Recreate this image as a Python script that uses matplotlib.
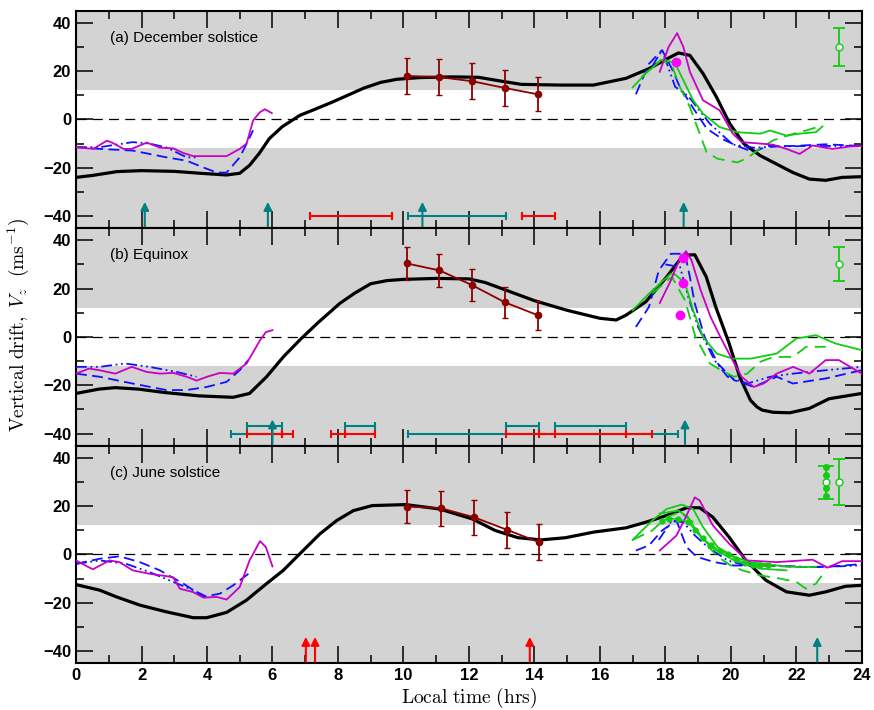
import matplotlib
matplotlib.use("Agg")
import matplotlib.pyplot as plt
from matplotlib.ticker import MultipleLocator

plt.rcParams['font.family'] = ['Liberation Sans', 'DejaVu Sans']
plt.rcParams['mathtext.fontset'] = 'cm'

titles = ["(a) December solstice", "(b) Equinox", "(c) June solstice"]

# ---------------- panel (a) December solstice ----------------
a_black_t = [0, 0.5, 1.25, 2, 3, 3.8, 4.6, 5.0, 5.3, 5.6, 5.9, 6.3, 6.84, 7.3, 7.8, 8.3, 8.8, 9.3, 9.8, 10.5, 11.5, 12.3, 13.0,
             13.6, 14.78, 15.8, 16.8, 17.5, 18.04, 18.4, 18.75, 19.15, 19.56, 19.97, 20.4, 20.9, 21.4, 21.9, 22.4, 22.9, 23.4, 24]
a_black_v = [-24, -23.2, -21.6, -21.2, -21.5, -22.3, -23, -22.3, -19, -14, -8, -3, 1.7, 4.2, 7, 10, 13, 15.3, 16.6, 17.3, 17.6, 17.4, 15.8,
             14.5, 14.2, 14.2, 17, 21, 25, 27.5, 26.5, 19, 9.3, -1.8, -10.1, -15, -18.5, -22, -24.7, -25.2, -24, -23.7]

a_mag1_t = [0, 0.53, 0.94, 1.1, 1.45, 1.7, 2.16, 2.56, 2.97, 3.28, 3.58, 4.19, 4.6, 5.0, 5.21, 5.41, 5.62, 5.77, 5.98]
a_mag1_v = [-11.5, -12.2, -8.8, -9.6, -12.2, -12.2, -9.6, -11.7, -12, -13.9, -15.2, -15.2, -15.2, -12.2, -10, -0.4, 3, 4.2, 2.6]
a_mag2_t = [17.83, 18.1, 18.36, 18.55, 18.75, 19.15, 19.66, 20.06, 20.33, 20.9, 21.3, 21.7, 22.1, 22.5, 23.1, 23.6, 24]
a_mag2_v = [19.7, 30, 35.7, 30, 19.7, 7.9, 3.75, -5.9, -9.4, -10, -10.5, -12.2, -14.3, -10.8, -12.2, -11.3, -11]

a_bdash1_t = [0, 0.72, 1.73, 2.76, 3.38, 3.89, 4.3, 4.6, 5.0, 5.26, 5.41]
a_bdash1_v = [-11.5, -12.2, -12.9, -15.7, -17.1, -19.9, -22, -22, -15.7, -8.7, -4.5]
a_bdash2_t = [17.1, 17.5, 17.9, 18.2, 18.44, 18.85, 19.26, 19.75, 20.2, 20.7, 21.1, 21.9, 22.9, 24]
a_bdash2_v = [10.4, 23, 28.7, 21, 13.5, 4.7, -3.75, -8.2, -11, -13.6, -11, -11, -10.3, -11]

a_bdot1_t = [0, 0.72, 1.73, 2.24, 2.76, 3.38, 3.7]
a_bdot1_v = [-11.5, -11.5, -9.4, -10, -11.6, -15.7, -15.7]
a_bdot2_t = [17.6, 17.9, 18.3, 18.7, 19.36, 20.06, 20.7, 21.5, 22.5, 24]
a_bdot2_v = [22, 28.7, 13.5, 9.6, -1.8, -10.4, -11.7, -11.2, -11, -11]

a_gsol_t = [17.0, 17.4, 17.87, 18.0, 18.3, 18.5, 18.85, 19.15, 19.66, 20.2, 20.9, 21.2, 21.7, 22.1, 22.6, 22.8]
a_gsol_v = [13.2, 19, 24.6, 24.6, 23.2, 17.6, 7.9, 2.4, -3.2, -5.3, -5.9, -4.6, -6.7, -5.9, -5.3, -2.9]
a_gdash_t = [17.27, 17.87, 18.2, 18.44, 18.75, 19.05, 19.26, 19.6, 20.2, 20.5, 20.9, 21.3, 21.9, 22.3, 22.8]
a_gdash_v = [17.6, 24.6, 22.4, 13.5, 5.1, -5.9, -13.6, -16.3, -17.8, -16, -12, -8.6, -6, -4.6, -2.5]

a_red_t = [10.1, 11.1, 12.1, 13.1, 14.1]
a_red_v = [18, 17.5, 15.8, 13, 10.4]
a_red_e = [7.5, 7.5, 7.5, 7.5, 7]

a_dot_t = [18.34]
a_dot_v = [23.9]
a_gerr_t = [23.3]
a_gerr_v = [30]
a_gerr_e = [8]

a_teal_arrows = [2.1, 5.86, 10.58, 18.56]
a_red_arrows = []
a_teal_bars = [(10.13, 13.14, -40)]
a_red_bars = [(7.15, 9.64, -40), (13.63, 14.64, -40)]

# ---------------- panel (b) Equinox ----------------
b_black_t = [0, 0.7, 1.2, 1.9, 2.7, 3.75, 4.8, 5.3, 5.82, 6.33, 6.84, 7.4, 8.06, 8.5, 9.0, 9.5, 10.0, 11.0, 12.0, 12.5, 13.0, 14.0,
             15.0, 16.0, 16.5, 16.8, 17.4, 18.04, 18.55, 18.9, 19.25, 19.54, 19.95, 20.27, 20.6, 20.8, 20.96, 21.3, 21.8,
             22.4, 23.0, 24]
b_black_v = [-23.4, -21.6, -21, -21.6, -23, -24.4, -25, -23.4, -16.5, -8.3, -1.2, 6, 13.9, 18, 22, 23.3, 23.8, 24.2, 24, 22.5, 20, 15,
             11, 7.7, 7, 9, 14.5, 24.8, 33.8, 34, 24.8, 12.4, -2.75, -16.5, -26.2, -29, -30.3, -31.2, -31.4,
             -29.6, -25.6, -23.4]

b_mag1_t = [0, 0.4, 0.72, 1.2, 1.7, 2.16, 2.56, 2.97, 3.38, 3.68, 4.0, 4.4, 4.8, 5.21, 5.62, 5.8, 6.0]
b_mag1_v = [-15.2, -13.1, -13.8, -15.2, -12.4, -14.5, -15.2, -14.9, -16.5, -18.1, -16.5, -14.9, -15.2, -11, -1.4, 2, 2.8]
b_mag2_t = [17.83, 18.17, 18.42, 18.63, 18.8, 19.08, 19.38, 19.68, 20.0, 20.33, 20.7, 21.0, 21.4, 21.9, 22.4, 22.9, 23.3, 24]
b_mag2_v = [14, 23.4, 31.7, 35.5, 31.7, 19.3, 8.3, 0, -8.3, -16.5, -20.7, -19.3, -15.2, -12.4, -15.2, -9.6, -9.6, -15.2]

b_bdash1_t = [0, 0.72, 1.73, 2.76, 3.38, 4.0, 4.6, 5.0, 5.26]
b_bdash1_v = [-15.2, -16.5, -19.3, -22, -22, -20.7, -18.6, -13.8, -9.6]
b_bdash2_t = [17.1, 17.5, 17.8, 18.17, 18.6, 18.75, 18.9, 19.2, 19.6, 20.1, 20.7, 21.4, 21.9, 22.9, 24]
b_bdash2_v = [4.1, 12.4, 27.5, 34.4, 34.4, 24.8, 13.8, 0, -11, -17.9, -20.7, -16.5, -19.3, -17.2, -13.8]

b_bdot1_t = [0, 0.72, 1.5, 2.24, 3.07, 3.68]
b_bdot1_v = [-12.4, -12.4, -11, -12.4, -14.5, -16.5]
b_bdot2_t = [18.0, 18.45, 18.7, 19.0, 19.5, 19.9, 20.5, 21.2, 21.9, 22.9, 24]
b_bdot2_v = [30, 28.9, 16.5, 4.1, -9.6, -16.5, -19.3, -16.5, -15.2, -13.8, -12.4]

b_gsol_t = [17.0, 17.5, 18.17, 18.3, 18.6, 18.85, 19.15, 19.57, 20.06, 20.6, 21.4, 22.0, 22.6, 23.2, 24]
b_gsol_v = [11, 17.9, 26.2, 25.8, 22.3, 11, 0, -6.9, -9, -9, -6.9, -0.7, 0.7, -2.75, -5.5]
b_gdash_t = [17.6, 18.2, 18.6, 18.92, 19.36, 19.7, 20.1, 20.5, 20.9, 21.3, 21.9, 22.3, 22.9]
b_gdash_v = [18, 24.8, 15.2, 0, -11, -13.8, -16.5, -15.2, -10.3, -8.3, -8.3, -4.1, -4.1]

b_red_t = [10.1, 11.1, 12.1, 13.1, 14.1]
b_red_v = [30.4, 27.5, 21.4, 14.3, 9]
b_red_e = [7, 7, 6.5, 6.5, 6]

b_dot_t = [18.55, 18.55, 18.45]
b_dot_v = [32.8, 22.5, 9]
b_gerr_t = [23.3]
b_gerr_v = [30]
b_gerr_e = [7]

b_teal_arrows = [6.0, 18.6]
b_red_arrows = []
b_teal_bars = [(4.72, 6.3, -40), (10.15, 18.39, -40), (5.21, 6.3, -37), (8.21, 9.13, -37),
               (13.12, 14.14, -37), (14.63, 16.8, -37)]
b_red_bars = [(5.21, 6.3, -40), (6.3, 6.64, -40), (7.79, 8.21, -40), (8.21, 9.13, -40),
              (13.12, 14.14, -40), (14.14, 14.63, -40), (14.63, 16.8, -40), (16.8, 17.6, -40)]

# ---------------- panel (c) June solstice ----------------
c_black_t = [0, 0.72, 1.24, 1.95, 2.77, 3.58, 3.99, 4.6, 5.2, 5.82, 6.33, 6.84, 7.45, 7.96, 8.47, 9.05, 10.07, 11.1, 12.1, 12.8,
             13.5, 14.2, 14.95, 15.8, 16.8, 17.4, 18.04, 18.65, 19.05, 19.45, 19.95, 20.46, 21.07, 21.7, 22.4, 22.9, 23.5, 24]
c_black_v = [-12.5, -14.8, -17.6, -21, -23.8, -26.2, -26.2, -24, -19, -12.1, -6.6, 0.3, 8.5, 14, 18.1, 20.2, 20.6, 18.8, 14.7, 9.9,
             6.9, 6, 6.9, 9.2, 11, 13.3, 16.1, 19.3, 19.3, 15.4, 7.1, -2.5, -10.7, -15.5, -16.9, -15.5, -13.2, -12.8]

c_mag1_t = [0, 0.51, 1.02, 1.33, 1.73, 2.24, 2.76, 2.97, 3.17, 3.58, 3.89, 4.3, 4.6, 5.0, 5.3, 5.62, 5.8, 6.0]
c_mag1_v = [-2.5, -6.2, -2.5, -3.2, -6.6, -8, -9, -9.5, -14.2, -15.6, -17.9, -17.6, -18.7, -13.5, -2.5, 5.5, 3, -5]
c_mag2_t = [17.83, 18.34, 18.65, 18.9, 19.05, 19.45, 19.95, 20.5, 21.4, 22.5, 22.95, 23.4, 24]
c_mag2_v = [1.6, 7.8, 16.1, 23.6, 22.3, 12, 4.4, -2.5, -3.2, -2.2, -5.5, -2.8, -2.8]

c_bdash1_t = [0, 0.72, 1.33, 1.95, 2.56, 3.28, 3.89, 4.4, 4.8, 5.2, 5.4]
c_bdash1_v = [-3.9, -1.8, -0.8, -3.2, -6.6, -12.1, -17.6, -16.2, -12.8, -8.7, -6.6]
c_bdash2_t = [17.1, 17.5, 17.9, 18.34, 18.65, 18.96, 19.5, 20.1, 21.1, 22.0, 22.9, 24]
c_bdash2_v = [1.6, 3.7, 9.9, 14, 3, -1, -3.2, -4.6, -4.6, -5.2, -5.2, -4]

c_bdot1_t = [0, 0.72, 1.53, 2.24, 2.97, 3.58, 4.0]
c_bdot1_v = [-3.9, -2.5, -3.9, -7.3, -11.4, -14.8, -17.6]
c_bdot2_t = [17.8, 18.2, 18.55, 18.85, 19.3, 19.9, 20.46, 21.4, 22.4, 23.4, 24]
c_bdot2_v = [6, 14, 13.3, 8.5, 3, -2.5, -4.6, -4.6, -5.2, -4.9, -4.5]

c_gsol_t = [17.0, 17.6, 18.04, 18.5, 18.85, 19.15, 19.6, 20.1, 20.6, 21.4, 22.0, 22.6]
c_gsol_v = [6, 14, 18.8, 20.6, 18.8, 11.3, 3, -1, -3.2, -4.6, -5.2, -5.2]
c_gsol2_t = [17.83, 18.4, 18.7, 19.0, 19.4, 20.1, 20.9, 21.7]
c_gsol2_v = [16.9, 18.1, 15.4, 8.5, 3, -2.5, -5.9, -6.6]
c_gdash_t = [17.0, 17.6, 18.04, 18.44, 18.85, 19.15, 19.6, 20.0, 20.35, 20.9, 21.5, 22.0, 22.3, 22.6, 22.9]
c_gdash_v = [6, 9.9, 15.4, 17.5, 13.3, 5.8, -1, -4.6, -6.6, -8.7, -10, -11.4, -14.2, -12.1, -6.6]
c_gdot_t = [17.9, 18.1, 18.4, 18.7, 18.9, 19.15, 19.4, 19.67, 19.9, 20.17, 20.43, 20.67, 20.9, 21.15]
c_gdot_v = [14, 14.7, 14.7, 13.3, 10.2, 6.7, 3.7, 1.6, 0, -2, -3.4, -4.3, -4.5, -4.5]

c_red_t = [10.12, 11.14, 12.15, 13.16, 14.15]
c_red_v = [19.8, 19.1, 15.4, 10.2, 5]
c_red_e = [6.9, 7.3, 7.3, 7.4, 7.4]

c_dot_t = []
c_dot_v = []
c_gerr_t = [23.3]
c_gerr_v = [29.8]
c_gerr_e = [9.5]
c_gerr2_t = [22.9]
c_gerr2_v = [29.8]
c_gerr2_e = [6.8]
c_gerr2_pts = [36.3, 32.9, 27.4, 24]

c_teal_arrows = [22.64]
c_red_arrows = [7.02, 7.3, 13.86]
c_teal_bars = []
c_red_bars = []

panels = [
    dict(black=(a_black_t, a_black_v), mag=[(a_mag1_t, a_mag1_v), (a_mag2_t, a_mag2_v)],
         bdash=[(a_bdash1_t, a_bdash1_v), (a_bdash2_t, a_bdash2_v)],
         bdot=[(a_bdot1_t, a_bdot1_v), (a_bdot2_t, a_bdot2_v)],
         gsol=[(a_gsol_t, a_gsol_v)], gdash=[(a_gdash_t, a_gdash_v)],
         red=(a_red_t, a_red_v, a_red_e), dots=(a_dot_t, a_dot_v), gerr=(a_gerr_t, a_gerr_v, a_gerr_e),
         tarr=a_teal_arrows, rarr=a_red_arrows, tbars=a_teal_bars, rbars=a_red_bars),
    dict(black=(b_black_t, b_black_v), mag=[(b_mag1_t, b_mag1_v), (b_mag2_t, b_mag2_v)],
         bdash=[(b_bdash1_t, b_bdash1_v), (b_bdash2_t, b_bdash2_v)],
         bdot=[(b_bdot1_t, b_bdot1_v), (b_bdot2_t, b_bdot2_v)],
         gsol=[(b_gsol_t, b_gsol_v)], gdash=[(b_gdash_t, b_gdash_v)],
         red=(b_red_t, b_red_v, b_red_e), dots=(b_dot_t, b_dot_v), gerr=(b_gerr_t, b_gerr_v, b_gerr_e),
         tarr=b_teal_arrows, rarr=b_red_arrows, tbars=b_teal_bars, rbars=b_red_bars),
    dict(black=(c_black_t, c_black_v), mag=[(c_mag1_t, c_mag1_v), (c_mag2_t, c_mag2_v)],
         bdash=[(c_bdash1_t, c_bdash1_v), (c_bdash2_t, c_bdash2_v)],
         bdot=[(c_bdot1_t, c_bdot1_v), (c_bdot2_t, c_bdot2_v)],
         gsol=[(c_gsol_t, c_gsol_v), (c_gsol2_t, c_gsol2_v)], gdash=[(c_gdash_t, c_gdash_v)],
         red=(c_red_t, c_red_v, c_red_e), dots=(c_dot_t, c_dot_v), gerr=(c_gerr_t, c_gerr_v, c_gerr_e),
         tarr=c_teal_arrows, rarr=c_red_arrows, tbars=c_teal_bars, rbars=c_red_bars),
]

teal = '#008080'
red = '#ff0000'
green = '#11cc11'
blue = '#1010ff'
mag = '#c800c8'

fig, axes = plt.subplots(3, 1, figsize=(8.74, 7.1), dpi=100, sharex=True)
fig.subplots_adjust(left=0.087, right=0.986, bottom=0.066, top=0.985, hspace=0)

for i, (ax, p) in enumerate(zip(axes, panels)):
    ax.axhspan(12, 45, color='#d3d3d3', lw=0, zorder=0)
    ax.axhspan(-45, -12, color='#d3d3d3', lw=0, zorder=0)
    ax.axhline(0, color='k', lw=0.9, ls=(0, (8, 5)), zorder=1)

    ax.plot(*p['black'], color='k', lw=2.3, zorder=3)
    for t, v in p['bdash']:
        ax.plot(t, v, color=blue, lw=1.3, ls=(0, (6, 3)), zorder=4)
    for t, v in p['bdot']:
        ax.plot(t, v, color=blue, lw=1.3, ls=(0, (6, 2, 1, 2, 1, 2)), zorder=4)
    for t, v in p['gdash']:
        ax.plot(t, v, color=green, lw=1.3, ls=(0, (7, 4)), zorder=4)
    for t, v in p['gsol']:
        ax.plot(t, v, color=green, lw=1.3, zorder=4)
    for t, v in p['mag']:
        ax.plot(t, v, color=mag, lw=1.3, zorder=5)

    rt, rv, re = p['red']
    ax.errorbar(rt, rv, yerr=re, color='#8b0000', lw=1.3, marker='o', ms=4.5,
                capsize=2, elinewidth=1.3, zorder=6)
    ax.plot(*p['dots'], 'o', color='#ff00ff', ms=6, zorder=7, ls='none')
    gt, gv, ge = p['gerr']
    ax.errorbar(gt, gv, yerr=ge, fmt='o', mfc='white', mec=green, ecolor=green,
                ms=5, capsize=4, elinewidth=1.3, capthick=1.3, zorder=6)

    for t0, t1, y in p['tbars']:
        ax.errorbar([(t0 + t1) / 2], [y], xerr=[(t1 - t0) / 2], fmt='none', ecolor=teal,
                    elinewidth=1.5, capsize=3, capthick=1.5, zorder=5)
    for t0, t1, y in p['rbars']:
        ax.errorbar([(t0 + t1) / 2], [y], xerr=[(t1 - t0) / 2], fmt='none', ecolor=red,
                    elinewidth=1.5, capsize=3, capthick=1.5, zorder=6)
    for t in p['tarr']:
        ax.annotate('', xy=(t, -33), xytext=(t, -45.5),
                    arrowprops=dict(arrowstyle='-|>', color=teal, lw=1.5, mutation_scale=12), zorder=6)
    for t in p['rarr']:
        ax.annotate('', xy=(t, -33), xytext=(t, -45.5),
                    arrowprops=dict(arrowstyle='-|>', color=red, lw=1.5, mutation_scale=12), zorder=6)

    ax.text(0.043, 0.876, titles[i], transform=ax.transAxes, fontsize=11, va='center', ha='left')

    ax.set_xlim(0, 24)
    ax.set_ylim(-45, 45)
    ax.xaxis.set_major_locator(MultipleLocator(2))
    ax.xaxis.set_minor_locator(MultipleLocator(1))
    ax.yaxis.set_major_locator(MultipleLocator(20))
    ax.yaxis.set_minor_locator(MultipleLocator(10))
    ax.tick_params(which='both', direction='in', top=True, right=True, width=1.1)
    ax.tick_params(which='major', length=12, labelsize=12)
    ax.tick_params(which='minor', length=6)
    for lab in ax.get_yticklabels() + ax.get_xticklabels():
        lab.set_fontweight('bold')
    for s in ax.spines.values():
        s.set_linewidth(1.5)

# a few extra green dotted markers in panel (c)
axes[2].plot(c_gdot_t, c_gdot_v, color=green, lw=1.0, marker='o', ms=3.5, zorder=5)
axes[2].errorbar(c_gerr2_t, c_gerr2_v, yerr=c_gerr2_e, fmt='o', mfc='white', mec=green, ecolor=green,
                 ms=5, capsize=6, elinewidth=1.3, capthick=1.3, zorder=6)
axes[2].plot([c_gerr2_t[0]] * len(c_gerr2_pts), c_gerr2_pts, 'o', color=green, ms=4, zorder=7)

axes[2].set_xlabel(r'$\mathrm{Local\ time\ (hrs)}$', fontsize=14, labelpad=2)
fig.text(0.021, 0.542, r'$\mathrm{Vertical\ drift,}\ V_z\ \ (\mathrm{ms}^{-1})$', fontsize=14,
         rotation=90, ha='center', va='center')

fig.savefig('out.png', dpi=100)
